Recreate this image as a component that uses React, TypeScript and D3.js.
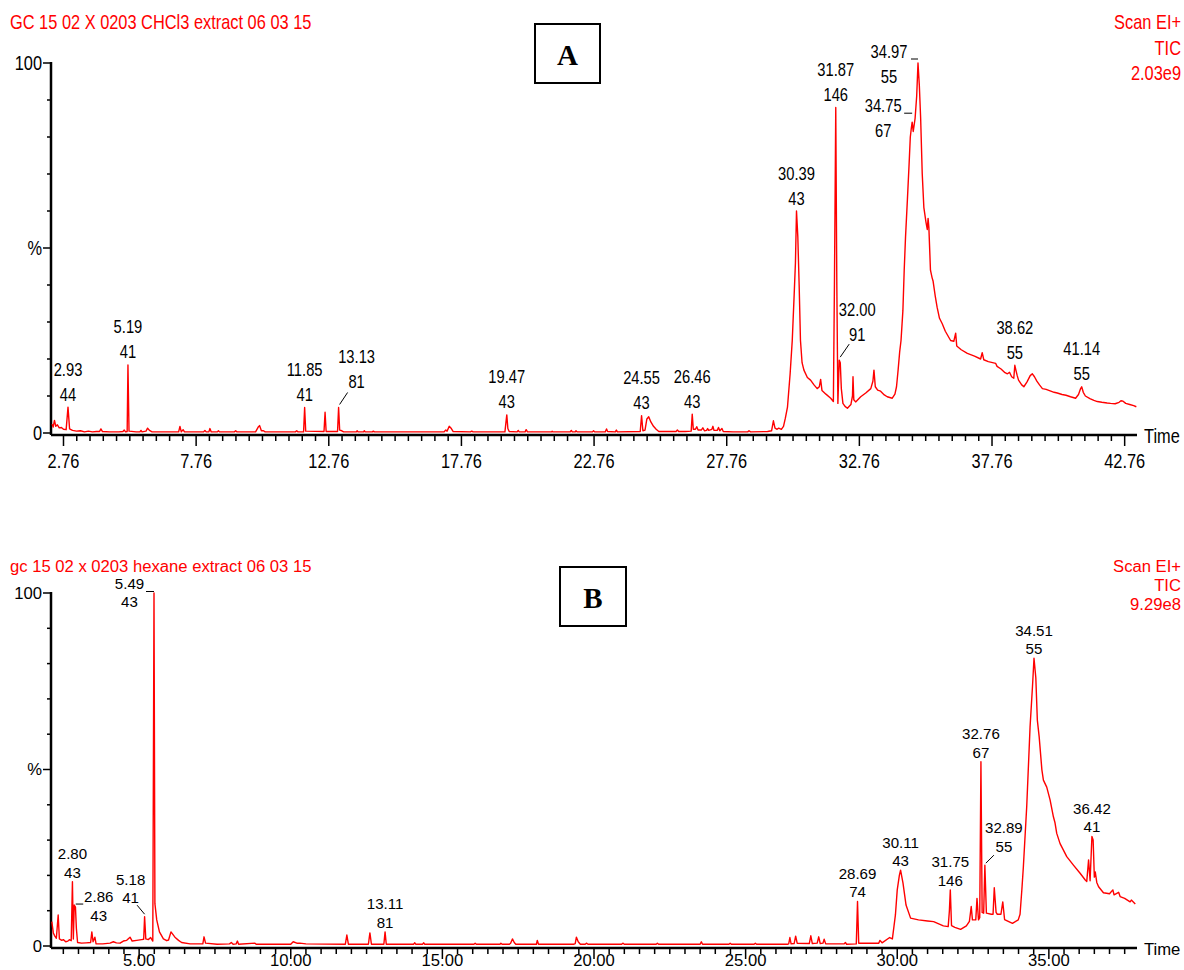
import { useEffect, useRef } from 'react';
import * as d3 from 'd3';

type Pt = [number, number];

// retention time (min), relative abundance (%)
const chcl3Trace: Pt[] = [
  [2.33, 2.4], [2.37, 1.6], [2.42, 3.4], [2.47, 1.8], [2.53, 2.2], [2.6, 1.4], [2.68, 1.5], [2.76, 1.0],
  [2.86, 0.9], [2.93, 7.0], [2.99, 1.1], [3.1, 0.7], [3.25, 0.5], [3.4, 0.6], [3.55, 0.3], [3.7, 0.5],
  [3.85, 0.3], [4.0, 0.4], [4.12, 0.4], [4.17, 1.1], [4.23, 0.4], [4.5, 0.3], [4.85, 0.3], [5.0, 0.4],
  [5.05, 0.8], [5.1, 0.3], [5.16, 0.4], [5.19, 18.4], [5.23, 0.5], [5.5, 0.3], [5.64, 0.3], [5.68, 0.7],
  [5.72, 0.3], [5.87, 0.5], [5.93, 1.3], [6.0, 0.7], [6.1, 0.3], [6.6, 0.3], [7.1, 0.3], [7.15, 1.8],
  [7.2, 0.3], [7.27, 0.9], [7.32, 0.3], [8.04, 0.3], [8.09, 0.7], [8.14, 0.3], [8.24, 0.3], [8.28, 1.2],
  [8.33, 0.3], [8.56, 0.3], [8.6, 0.6], [8.64, 0.3], [9.2, 0.3], [9.25, 0.6], [9.3, 0.3], [10.0, 0.3],
  [10.1, 1.6], [10.15, 2.0], [10.22, 0.6], [10.3, 0.6], [10.36, 0.3], [11.5, 0.3], [11.55, 0.6], [11.6, 0.3],
  [11.81, 0.3], [11.85, 6.9], [11.89, 0.5], [12.58, 0.4], [12.62, 5.6], [12.66, 0.4], [13.09, 0.4],
  [13.13, 6.9], [13.17, 0.8], [13.25, 0.6], [13.32, 0.3], [13.8, 0.3], [13.83, 0.6], [13.86, 0.3],
  [14.07, 0.3], [14.1, 0.6], [14.13, 0.3], [14.4, 0.3], [14.44, 0.5], [14.48, 0.3], [17.1, 0.3],
  [17.17, 0.8], [17.22, 0.5], [17.3, 1.8], [17.38, 1.2], [17.45, 0.4], [18.1, 0.3], [18.15, 0.5],
  [18.2, 0.3], [19.4, 0.3], [19.44, 3.0], [19.47, 4.9], [19.51, 1.2], [19.56, 0.4], [19.86, 0.3],
  [19.9, 0.7], [19.94, 0.3], [20.16, 0.3], [20.2, 0.9], [20.25, 0.3], [21.15, 0.3], [21.18, 0.5],
  [21.21, 0.3], [21.86, 0.3], [21.9, 0.7], [21.94, 0.3], [22.05, 0.3], [22.08, 0.6], [22.12, 0.3],
  [22.7, 0.3], [22.74, 0.6], [22.78, 0.3], [23.18, 0.3], [23.23, 1.1], [23.27, 0.4], [23.56, 0.3],
  [23.6, 0.8], [23.64, 0.3], [24.5, 0.4], [24.55, 4.7], [24.6, 0.6], [24.68, 0.8], [24.75, 3.8],
  [24.82, 4.4], [24.9, 3.0], [25.0, 1.8], [25.1, 1.0], [25.2, 0.4], [25.85, 0.4], [25.9, 0.8],
  [25.95, 0.4], [26.2, 0.4], [26.42, 0.5], [26.46, 5.1], [26.5, 1.0], [26.58, 1.0], [26.63, 1.7],
  [26.68, 0.8], [26.8, 0.8], [26.86, 1.4], [26.92, 0.6], [27.0, 0.7], [27.04, 1.2], [27.08, 0.7],
  [27.2, 1.0], [27.24, 1.8], [27.28, 0.7], [27.4, 0.7], [27.45, 1.5], [27.5, 0.6], [27.58, 1.2],
  [27.63, 0.4], [28.0, 0.3], [28.55, 0.3], [28.6, 0.6], [28.66, 0.3], [29.3, 0.4], [29.45, 0.6],
  [29.52, 3.3], [29.58, 1.3], [29.66, 1.0], [29.72, 1.3], [29.82, 1.0], [29.9, 1.8], [29.97, 4.0],
  [30.05, 7], [30.15, 16], [30.23, 25], [30.3, 37], [30.35, 46], [30.39, 60], [30.44, 53], [30.49, 40],
  [30.54, 25], [30.6, 19], [30.67, 17], [30.8, 15], [30.92, 14.3], [31.05, 13], [31.17, 12], [31.25, 12.5],
  [31.3, 14.5], [31.35, 11.5], [31.5, 10.5], [31.68, 9.4], [31.78, 8.5], [31.82, 40], [31.87, 88],
  [31.91, 40], [31.95, 8], [32.0, 19.7], [32.04, 19], [32.08, 12], [32.14, 8], [32.22, 7.2], [32.31, 6.7],
  [32.44, 7.7], [32.5, 10], [32.52, 15.2], [32.55, 9], [32.62, 8.4], [32.81, 9.8], [33.0, 10.8],
  [33.19, 12], [33.27, 14], [33.31, 17], [33.36, 12.5], [33.45, 11.6], [33.56, 11.3], [33.7, 10.3],
  [33.81, 9.8], [34.0, 9.4], [34.1, 10.5], [34.16, 12.5], [34.22, 17], [34.28, 22], [34.33, 25],
  [34.4, 33], [34.45, 44], [34.5, 53], [34.57, 63], [34.63, 72], [34.68, 80], [34.72, 82.5], [34.75, 84],
  [34.79, 81.5], [34.82, 83], [34.86, 85], [34.92, 91], [34.97, 100], [35.02, 94], [35.07, 85],
  [35.13, 70], [35.19, 61], [35.27, 57], [35.32, 55], [35.35, 58], [35.38, 55.5], [35.44, 44],
  [35.5, 42], [35.54, 41], [35.62, 37], [35.69, 34], [35.78, 31], [35.88, 29.6], [36.0, 27.5],
  [36.2, 25], [36.32, 24.8], [36.39, 27], [36.43, 23.5], [36.6, 22.5], [36.83, 21.5], [37.1, 20.8],
  [37.33, 20], [37.39, 21.7], [37.45, 19.8], [37.62, 19.3], [37.9, 18.8], [37.95, 18.0], [38.1, 17.3],
  [38.25, 16.3], [38.34, 16], [38.42, 16.4], [38.5, 15.2], [38.58, 14.8], [38.62, 18.3], [38.66, 17.0],
  [38.71, 15.5], [38.76, 14.3], [38.88, 13], [38.96, 12.5], [39.08, 13.8], [39.2, 15.5], [39.28, 16],
  [39.36, 15.2], [39.45, 14], [39.55, 13], [39.66, 12], [39.8, 11.8], [39.95, 11.4], [40.1, 11],
  [40.22, 10.8], [40.4, 10.4], [40.55, 10.2], [40.72, 9.8], [40.91, 9.4], [41.02, 10.4], [41.1, 12],
  [41.14, 12.5], [41.2, 11], [41.28, 10], [41.45, 9.3], [41.6, 8.8], [41.73, 8.5], [41.9, 8.3],
  [42.1, 8.1], [42.23, 8], [42.4, 7.9], [42.55, 8.3], [42.62, 8.7], [42.7, 8.6], [42.8, 8.0],
  [42.95, 7.7], [43.1, 7.4], [43.2, 7.1],
];

const hexaneTrace: Pt[] = [
  [2.12, 6.9], [2.17, 3.7], [2.22, 2.8], [2.27, 2.2], [2.33, 8.8], [2.37, 2.0], [2.45, 1.6], [2.5, 1.8],
  [2.58, 1.2], [2.65, 1.4], [2.7, 1.8], [2.76, 1.5], [2.8, 18.2], [2.83, 2.0], [2.86, 11.6], [2.9, 11.0],
  [2.93, 5.0], [2.97, 1.0], [3.1, 0.8], [3.25, 0.9], [3.4, 1.0], [3.44, 4.0], [3.48, 1.2], [3.54, 2.5],
  [3.58, 0.6], [3.8, 0.6], [4.04, 0.8], [4.15, 1.2], [4.25, 0.9], [4.37, 0.8], [4.48, 1.4], [4.59, 1.6],
  [4.7, 2.5], [4.77, 1.4], [4.92, 1.6], [5.08, 1.8], [5.15, 1.9], [5.18, 8.3], [5.22, 2.0], [5.3, 1.8],
  [5.38, 2.4], [5.45, 1.4], [5.49, 100], [5.52, 12], [5.58, 7.4], [5.67, 4.0], [5.8, 2.0], [5.91, 1.5],
  [5.97, 1.7], [6.05, 4.0], [6.18, 2.5], [6.3, 1.6], [6.4, 1.0], [6.68, 0.6], [7.1, 0.6], [7.14, 2.6],
  [7.19, 0.8], [7.57, 0.5], [7.98, 0.6], [8.04, 1.0], [8.1, 0.5], [8.2, 0.6], [8.24, 1.4], [8.28, 0.5],
  [8.82, 0.8], [8.86, 0.5], [10.0, 0.5], [10.08, 1.2], [10.2, 0.8], [10.3, 0.8], [10.5, 0.6], [11.8, 0.5],
  [11.85, 3.1], [11.9, 0.5], [12.56, 0.5], [12.61, 3.7], [12.66, 0.5], [13.07, 0.5], [13.11, 4.0],
  [13.15, 0.5], [14.05, 0.5], [14.09, 0.9], [14.12, 0.5], [14.35, 0.5], [14.38, 0.9], [14.42, 0.5],
  [16.04, 0.5], [16.08, 0.8], [16.12, 0.5], [16.9, 0.5], [16.93, 0.8], [16.97, 0.5], [17.21, 0.5],
  [17.25, 0.8], [17.31, 2.0], [17.37, 1.0], [17.42, 0.5], [18.1, 0.5], [18.13, 1.6], [18.17, 0.5],
  [19.34, 0.5], [19.38, 0.7], [19.42, 2.5], [19.48, 1.2], [19.55, 0.5], [19.71, 0.5], [19.75, 0.8],
  [19.8, 0.5], [20.91, 0.5], [20.95, 0.8], [21.0, 0.5], [22.05, 0.5], [22.09, 0.8], [22.13, 0.5],
  [23.5, 0.5], [23.54, 1.2], [23.58, 0.5], [24.45, 0.5], [24.49, 0.8], [24.53, 0.5], [25.28, 0.5],
  [25.32, 0.8], [25.36, 0.5], [26.38, 0.5], [26.42, 0.6], [26.46, 2.4], [26.5, 0.6], [26.6, 0.7],
  [26.65, 2.8], [26.7, 0.8], [27.1, 0.7], [27.15, 2.9], [27.2, 0.7], [27.36, 0.8], [27.41, 2.6],
  [27.46, 0.7], [27.55, 0.8], [27.59, 1.9], [27.64, 0.6], [28.25, 0.6], [28.29, 1.0], [28.33, 0.5],
  [28.65, 0.6], [28.69, 12.6], [28.73, 0.8], [29.39, 0.8], [29.43, 1.6], [29.5, 0.9], [29.75, 2.4],
  [29.84, 2.0], [29.94, 8.8], [30.0, 15.9], [30.07, 20], [30.11, 21.5], [30.19, 17.8], [30.29, 11.6],
  [30.44, 7.9], [30.7, 7.4], [31.0, 7.1], [31.2, 6.9], [31.52, 5.7], [31.68, 5.5], [31.72, 10],
  [31.75, 15.9], [31.79, 5.8], [31.9, 5.3], [32.09, 4.7], [32.28, 5.7], [32.38, 7.0], [32.44, 11.2],
  [32.48, 7.4], [32.59, 7.4], [32.63, 13.5], [32.68, 7.4], [32.72, 8], [32.76, 52.2], [32.8, 9.5],
  [32.85, 9.3], [32.89, 22.9], [32.94, 9.3], [33.1, 9.0], [33.16, 9.0], [33.2, 16.5], [33.26, 9.5],
  [33.3, 9.0], [33.42, 9.0], [33.48, 12.5], [33.54, 7.5], [33.8, 6.4], [33.99, 7.4], [34.05, 9],
  [34.11, 16], [34.16, 22.5], [34.27, 39.5], [34.38, 62], [34.46, 73.5], [34.51, 81.5], [34.57, 76],
  [34.62, 64], [34.68, 59.3], [34.77, 49.9], [34.82, 47], [34.93, 45], [35.04, 41.4], [35.15, 36.6],
  [35.2, 35], [35.26, 31.9], [35.37, 29], [35.59, 25.3], [35.81, 22.9], [36.03, 20.6], [36.2, 18.7],
  [36.25, 18.3], [36.31, 24.4], [36.36, 18.5], [36.42, 31], [36.46, 30], [36.5, 19.5], [36.53, 21],
  [36.58, 18], [36.64, 16.8], [36.8, 15.1], [37.0, 14.8], [37.11, 15.9], [37.15, 14.5], [37.3, 15.2],
  [37.35, 14], [37.5, 13.5], [37.68, 12.5], [37.72, 13], [37.85, 11.9],
];

// [retention time, base ion]
const chcl3Peaks: [string, string][] = [
  ['2.93', '44'], ['5.19', '41'], ['11.85', '41'], ['13.13', '81'], ['19.47', '43'], ['24.55', '43'],
  ['26.46', '43'], ['30.39', '43'], ['31.87', '146'], ['32.00', '91'], ['34.75', '67'], ['34.97', '55'],
  ['38.62', '55'], ['41.14', '55'],
];
const hexanePeaks: [string, string][] = [
  ['2.80', '43'], ['2.86', '43'], ['5.18', '41'], ['5.49', '43'], ['13.11', '81'], ['28.69', '74'],
  ['30.11', '43'], ['31.75', '146'], ['32.76', '67'], ['32.89', '55'], ['34.51', '55'], ['36.42', '41'],
];

const chcl3TimeTicks = ['2.76', '7.76', '12.76', '17.76', '22.76', '27.76', '32.76', '37.76', '42.76'];
const hexaneTimeTicks = ['5.00', '10.00', '15.00', '20.00', '25.00', '30.00', '35.00'];

const pctTickValues = [0, 50, 100];
const pctTickText = ['0', '%', '100'];

const chcl3Header = ['Scan EI+', 'TIC', '2.03e9'];
const hexaneHeader = ['Scan EI+', 'TIC', '9.29e8'];

const FONT = "'Liberation Sans', Arial, Helvetica, sans-serif";
const SERIF = "'Liberation Serif', 'Times New Roman', serif";
const RED = '#ff0000';

// layout for each panel (pixels)
const panels = [
  {
    title: 'GC 15 02 X 0203 CHCl3 extract 06 03 15',
    header: chcl3Header, letter: 'A', trace: chcl3Trace, peaks: chcl3Peaks, ticks: chcl3TimeTicks,
    tAnchor: [2.93, 34.97], xAnchor: [68, 918], yRange: [433, 63], axisY: 435,
    sx: 0.82, font: 20, labelFont: 18, ionGap: 13, lineH: 25,
    titleY: 22, headStep: 25.5, box: [535, 24, 65, 59], tickLabelY: 461, timeY: 436,
    callouts: {
      '13.13': { dx: 18, ion: -26, lead: [1, -3, 9, -15] },
      '32.00': { dx: 18, ion: -26, lead: [1, -3, 10, -16] },
      '34.75': { dx: -29, ion: 8.5, lead: [-8, -9, 0, -9] },
      '34.97': { dx: -29, ion: 13, lead: [-7, -4, 0, -4] },
    } as Record<string, { dx: number; ion: number; lead: number[] }>,
  },
  {
    title: 'gc 15 02 x 0203 hexane extract 06 03 15',
    header: hexaneHeader, letter: 'B', trace: hexaneTrace, peaks: hexanePeaks, ticks: hexaneTimeTicks,
    tAnchor: [5.49, 34.51], xAnchor: [154, 1034], yRange: [946, 593], axisY: 948,
    sx: 1.04, font: 16, labelFont: 14.5, ionGap: 9, lineH: 18.5,
    titleY: 566, headStep: 19, box: [560, 567, 66, 59], tickLabelY: 960, timeY: 949,
    callouts: {
      '5.49': { dx: -24.5, ion: 9.5, lead: [-8, -1.5, 0, -1.5] },
      '2.86': { dx: 24.5, ion: 11, lead: [1.5, -1, 9, -1] },
      '5.18': { dx: -14, ion: -18.5, lead: [-7.5, -11.5, 0, -2.5] },
      '32.89': { dx: 19, ion: -18.5, lead: [1, -2, 9, -10] },
    } as Record<string, { dx: number; ion: number; lead: number[] }>,
  },
];

const AXIS_LEFT = 51;
const AXIS_RIGHT = 1137;

const Chromatograms = () => {
  const svgRef = useRef<SVGSVGElement>(null);

  useEffect(() => {
    const svg = d3.select(svgRef.current);
    svg.selectAll('*').remove();

    panels.forEach(p => {
      const g = svg.append('g');
      const x = d3.scaleLinear().domain(p.tAnchor).range(p.xAnchor);
      const y = d3.scaleLinear().domain([0, 100]).range(p.yRange);

      const label = (tx: number, ty: number, s: string, size: number, anchor: string, fill: string) =>
        g.append('text')
          .attr('transform', `translate(${tx},${ty}) scale(${p.sx},1)`)
          .attr('text-anchor', anchor)
          .attr('dominant-baseline', 'central')
          .attr('font-family', FONT)
          .attr('font-size', size)
          .attr('fill', fill)
          .text(s);

      // titles
      label(10, p.titleY, p.title, p.font, 'start', RED);
      p.header.forEach((h, i) => label(1181, p.titleY + i * p.headStep, h, p.font, 'end', RED));

      // panel letter box
      const [bx, by, bw, bh] = p.box;
      g.append('rect')
        .attr('x', bx).attr('y', by).attr('width', bw).attr('height', bh)
        .attr('fill', 'none').attr('stroke', '#000').attr('stroke-width', 2);
      g.append('text')
        .attr('x', bx + bw / 2).attr('y', by + bh / 2 + 1)
        .attr('text-anchor', 'middle').attr('dominant-baseline', 'central')
        .attr('font-family', SERIF).attr('font-weight', 'bold').attr('font-size', 29)
        .text(p.letter);

      // y axis
      g.append('line')
        .attr('x1', AXIS_LEFT).attr('x2', AXIS_LEFT)
        .attr('y1', y(100) - 1).attr('y2', p.axisY)
        .attr('stroke', '#000').attr('stroke-width', 2.5);
      d3.range(0, 101, 10).forEach(v => {
        g.append('line')
          .attr('x1', AXIS_LEFT - (v % 50 === 0 ? 8 : 4)).attr('x2', AXIS_LEFT)
          .attr('y1', y(v)).attr('y2', y(v))
          .attr('stroke', '#000').attr('stroke-width', 1.5);
      });
      pctTickValues.forEach((v, i) => label(AXIS_LEFT - 9, y(v), pctTickText[i], p.font, 'end', '#000'));

      // time axis
      const t0 = x.invert(AXIS_LEFT);
      const t1 = x.invert(AXIS_RIGHT);
      g.append('line')
        .attr('x1', AXIS_LEFT).attr('x2', AXIS_RIGHT)
        .attr('y1', p.axisY).attr('y2', p.axisY)
        .attr('stroke', '#000').attr('stroke-width', 2.5);
      const major = p.ticks.map(Number);
      const base = major[0];
      const first = base - Math.floor((base - t0) / 0.5) * 0.5;
      d3.range(first, t1, 0.5).forEach(t => {
        const isMajor = major.some(m => Math.abs(m - t) < 1e-6);
        g.append('line')
          .attr('x1', x(t)).attr('x2', x(t))
          .attr('y1', p.axisY).attr('y2', p.axisY + (isMajor ? 11 : 6))
          .attr('stroke', '#000').attr('stroke-width', 1.5);
      });
      p.ticks.forEach(s => label(x(+s), p.tickLabelY, s, p.font, 'middle', '#000'));
      label(AXIS_RIGHT + 7, p.timeY, 'Time', p.font, 'start', '#000');

      // trace
      const line = d3.line<Pt>().x(d => x(d[0])).y(d => y(d[1]));
      g.append('path')
        .attr('d', line(p.trace))
        .attr('fill', 'none').attr('stroke', RED)
        .attr('stroke-width', 1.4).attr('stroke-linejoin', 'round');

      // peak annotations
      p.peaks.forEach(([rt, ion]) => {
        const t = +rt;
        const top = d3.max(p.trace.filter(d => Math.abs(d[0] - t) < 0.03), d => d[1]) ?? 0;
        const px = x(t);
        const py = y(top);
        const c = p.callouts[rt];
        const lx = px + (c ? c.dx : 0);
        const ionY = py + (c ? c.ion : -p.ionGap);
        label(lx, ionY, ion, p.labelFont, 'middle', '#000');
        label(lx, ionY - p.lineH, rt, p.labelFont, 'middle', '#000');
        if (c) {
          g.append('line')
            .attr('x1', px + c.lead[0]).attr('y1', py + c.lead[1])
            .attr('x2', px + c.lead[2]).attr('y2', py + c.lead[3])
            .attr('stroke', '#000').attr('stroke-width', 1);
        }
      });
    });
  }, []);

  return (
    <svg
      ref={svgRef}
      width={1184}
      height={970}
      viewBox="0 0 1184 970"
      style={{ position: 'absolute', left: 0, top: 0, background: '#fff', display: 'block' }}
    />
  );
};

export default function App() {
  return <Chromatograms />;
}
